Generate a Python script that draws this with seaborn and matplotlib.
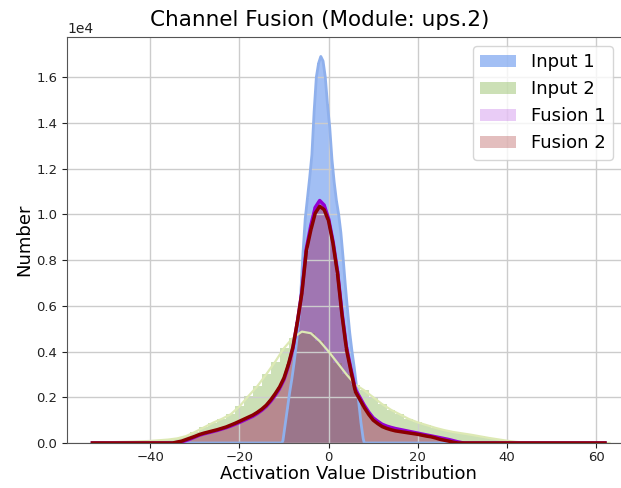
import numpy as np
import pandas as pd
import matplotlib
matplotlib.use("Agg")
import matplotlib.pyplot as plt
from matplotlib.patches import Patch
import seaborn as sns

# ---------------- data (bin centres and counts) ----------------
input1_x = [-10.25, -9.75, -9.25, -8.75, -8.25, -7.75, -7.25, -6.75, -6.25, -5.75,
            -5.25, -4.75, -4.25, -3.75, -3.25, -2.75, -2.25, -1.75, -1.25, -0.75,
            -0.25, 0.25, 0.75, 1.25, 1.75, 2.25, 2.75, 3.25, 3.75, 4.25,
            4.75, 5.25, 5.75, 6.25, 6.75, 7.25, 7.75]
input1_n = [100, 800, 1500, 2200, 2800, 3500, 4300, 5200, 6500, 8300,
            9800, 10700, 11600, 12600, 14500, 16000, 16600, 16900, 16700, 16000,
            14800, 13800, 12400, 11400, 10600, 10000, 9200, 8100, 6900, 5800,
            4800, 4000, 3300, 2500, 1800, 900, 200]

input2_x = [-52, -50, -48, -46, -44, -42, -40, -38, -36, -34, -32, -30, -28, -26, -24,
            -22, -20, -18, -16, -14, -12, -10, -8, -6, -4, -2, 0, 2, 4, 6,
            8, 10, 12, 14, 16, 18, 20, 22, 24, 26, 28, 30, 32, 34, 36,
            38, 40, 42, 44, 46, 48, 50, 52, 54, 56, 58, 60, 62]
input2_n = [20, 30, 40, 50, 60, 75, 90, 120, 150, 200, 300, 480, 680, 880, 1050,
            1250, 1600, 2050, 2480, 3000, 3550, 4150, 4600, 4870, 4800, 4450, 4000, 3500, 3000, 2550,
            2300, 2000, 1700, 1450, 1250, 1050, 900, 780, 660, 560, 480, 420, 360, 290, 220,
            160, 100, 50, 20, 10, 5, 3, 2, 2, 1, 1, 1, 1]

fusion_x = [-35, -34, -33, -32, -31, -30, -29, -28, -27, -26, -25, -24, -23, -22, -21,
            -20, -19, -18, -17, -16, -15, -14, -13, -12, -11, -10, -9, -8, -7, -6,
            -5, -4, -3, -2, -1, 0, 1, 2, 3, 4, 5, 6, 7, 8, 9,
            10, 11, 12, 13, 14, 15, 16, 17, 18, 19, 20, 21, 22, 23, 24,
            25, 26, 27, 28, 29, 30]
fusion1_n = [0, 20, 50, 110, 180, 260, 340, 400, 450, 500, 550, 610, 670, 740, 820,
             900, 990, 1080, 1170, 1290, 1430, 1600, 1820, 2080, 2380, 2780, 3380, 4150, 5300, 6600,
             8500, 9500, 10300, 10600, 10400, 9800, 8800, 7500, 5700, 4200, 3250, 2350, 2000, 1650, 1350,
             1100, 950, 820, 740, 680, 630, 590, 550, 510, 470, 430, 390, 350, 310, 270,
             230, 190, 150, 100, 50, 10]
fusion2_n = [0, 40, 80, 150, 220, 290, 370, 430, 480, 530, 580, 640, 700, 780, 860,
             950, 1040, 1130, 1220, 1340, 1480, 1650, 1880, 2150, 2450, 2850, 3450, 4200, 5300, 6550,
             8400, 9300, 10050, 10350, 10200, 9700, 8700, 7400, 5600, 4100, 3150, 2250, 1900, 1550, 1250,
             1000, 850, 720, 640, 580, 530, 500, 470, 440, 410, 380, 340, 300, 270, 220,
             160, 120, 80, 30, 0, 0]

data_min, data_max = -53.0, 62.0   # overall range of all activations

series_names = ["Input 1", "Input 2", "Fusion 1", "Fusion 2"]
series_x = [input1_x, input2_x, fusion_x, fusion_x]
series_n = [input1_n, input2_n, fusion1_n, fusion2_n]

# ---------------- styles ----------------
fill_colors = ["#6495ED", "#8FBC5F", "#9400D3", "#A52A2A"]
fill_alpha = [0.6, 0.45, 0.2, 0.3]
line_colors = ["#8fb0ec", "#dde9b4", "#9400D3", "#8B0000"]
line_widths = [2.0, 1.6, 2.5, 2.5]

fig = plt.figure(figsize=(6.21, 4.88), dpi=100)
ax = fig.add_axes([67 / 621, 45 / 488, 562 / 621, 406 / 488])

for name, xs, ns, fc, fa, lc, lw in zip(series_names, series_x, series_n,
                                          fill_colors, fill_alpha, line_colors, line_widths):
    df = pd.DataFrame({"x": np.asarray(xs, dtype=float), "n": np.asarray(ns, dtype=float)})
    w = float(df["x"].iloc[1] - df["x"].iloc[0])
    lo = float(df["x"].min() - w / 2)
    hi = float(df["x"].max() + w / 2)
    sns.histplot(data=df, x="x", weights="n", binwidth=w, binrange=(lo, hi),
                 common_bins=False, color=fc, alpha=fa,
                 edgecolor="none", linewidth=0, ax=ax)
    # density-style outline: zero outside the series' own support
    pre_x = [v for v in (data_min, lo) if v < df["x"].min()]
    post_x = [v for v in (hi, data_max) if v > df["x"].max()]
    line_df = pd.DataFrame({
        "x": np.concatenate([pre_x, df["x"].values, post_x]),
        "n": np.concatenate([np.zeros(len(pre_x)), df["n"].values, np.zeros(len(post_x))]),
    })
    sns.lineplot(data=line_df, x="x", y="n", color=lc, linewidth=lw, ax=ax,
                 legend=False, sort=True, estimator=None)

ax.set_xlim(-58.7, 67.4)
ax.set_ylim(0, 17750)
ax.set_xticks([-40, -20, 0, 20, 40, 60])
ax.set_yticks(np.arange(0, 17000, 2000))
ax.ticklabel_format(axis="y", style="sci", scilimits=(4, 4))
ax.grid(True, color="#cccccc", linewidth=1.0)
for sp in ax.spines.values():
    sp.set_color("#555555")
ax.tick_params(colors="#222222", labelsize=9.5)
ax.tick_params(axis="x", pad=2)

ax.set_title("Channel Fusion (Module: ups.2)", fontsize=15.5, x=0.45, pad=8)
ax.set_xlabel("Activation Value Distribution", fontsize=13, labelpad=1)
ax.set_ylabel("Number", fontsize=13, labelpad=2)

handles = [Patch(facecolor=c, alpha=a, edgecolor="none") for c, a in zip(fill_colors, fill_alpha)]
ax.legend(handles, series_names, loc="upper right", fontsize=13,
          bbox_to_anchor=(0.987, 1.0), framealpha=0.8)

fig.savefig("out.png", dpi=100)
